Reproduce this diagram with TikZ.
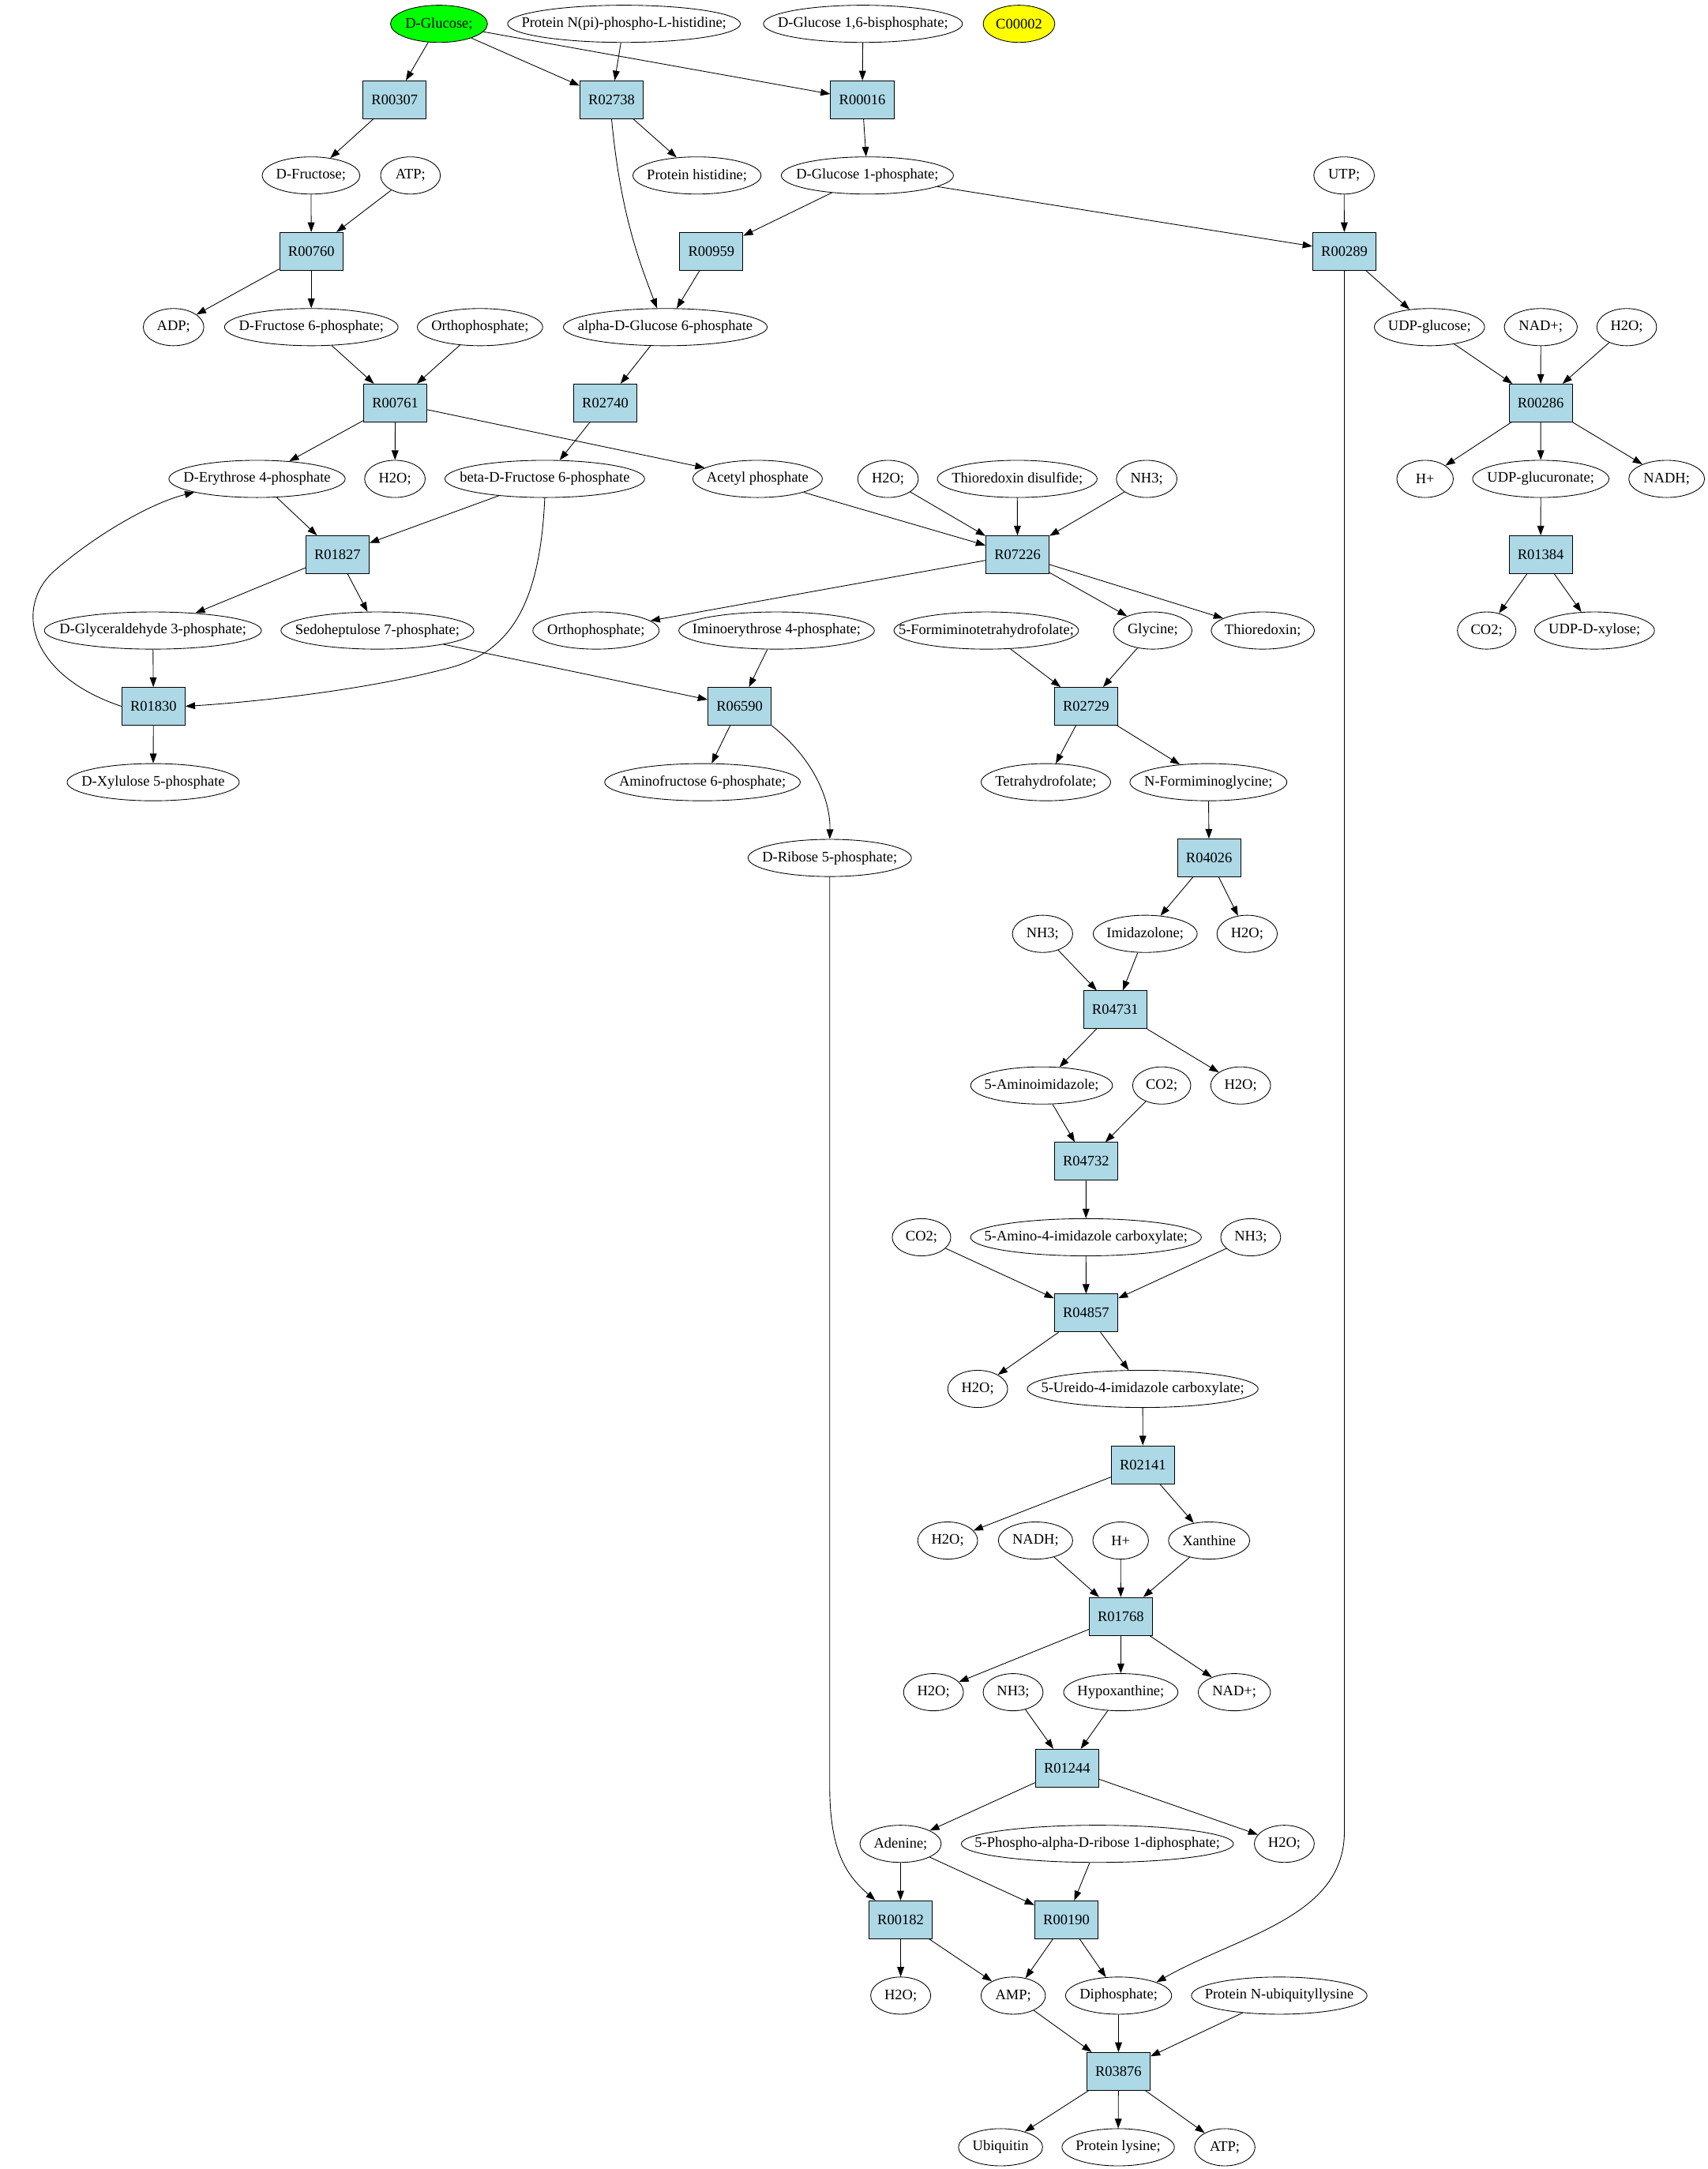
\documentclass[tikz,border=0pt]{standalone}
\usepackage{fontspec}
\setmainfont{Liberation Serif}
\usetikzlibrary{arrows.meta}
\usetikzlibrary{shapes}
\usetikzlibrary{calc}
\definecolor{rxn-blue}{HTML}{ADD8E6}
\definecolor{start-green}{HTML}{00FF00}
\definecolor{goal-yellow}{HTML}{FFFF00}
% compound: name, position, width, label
\newcommand{\met}[5][]{%
\node[met,minimum width=#4pt,#1] (#2) at (#3) {\makebox[0pt]{#5}};
}
% reaction: id, position
\newcommand{\rxn}[2]{%
\node[rxn] (#1) at (#2) {#1};
}

\begin{document}
\begin{tikzpicture}[x=1pt,y=-1pt,
  font=\fontsize{10.6}{12}\selectfont,
  met/.style={ellipse,draw,line width=0.5pt,inner sep=0pt,minimum height=27pt},
  rxn/.style={rectangle,draw,line width=0.5pt,fill=rxn-blue,inner sep=0pt,minimum width=46pt,minimum height=27.5pt},
  edge/.style={line width=0.5pt,-{Triangle[length=7pt,width=5pt]}}]
\useasboundingbox (0,0) rectangle (1240,1574.8);
% row 0
\met[fill=start-green]{glc}{318.7,17.3}{70.4}{D-Glucose;}
\met{phis}{453,17.3}{169}{Protein N(pi)-phospho-L-histidine;}
\met{gbp}{626.5,17.3}{144.5}{D-Glucose 1,6-bisphosphate;}
\met[fill=goal-yellow]{cpd}{739.8,17.3}{52}{C00002}
\rxn{R00307}{286.5,72.4}
\rxn{R02738}{444,72.4}
\rxn{R00016}{626,72.4}
\met{fru}{225.8,127.4}{71}{D-Fructose;}
\met{atpa}{298,127.4}{43.4}{ATP;}
\met{phist}{506,127.4}{93}{Protein histidine;}
\met{gip}{629.7,127.4}{125}{D-Glucose 1-phosphate;}
\met{utp}{975.8,127.4}{44}{UTP;}
\rxn{R00760}{226,182.5}
\rxn{R00959}{516.4,182.5}
\rxn{R00289}{976,182.5}
\met{adp}{126,237.5}{44}{ADP;}
\met{fsp}{226,237.5}{126}{D-Fructose 6-phosphate;}
\met{pia}{348.5,237.5}{91}{Orthophosphate;}
\met{agsp}{483,237.5}{148}{alpha-D-Glucose 6-phosphate}
\met{udpg}{1037.8,237.5}{80}{UDP-glucose;}
\met{nadpa}{1118.6,237.5}{53}{NAD+;}
\met{h2oa}{1181,237.5}{43.4}{H2O;}
\rxn{R00761}{287,292.6}
\rxn{R02740}{439.4,292.6}
\rxn{R00286}{1118.5,292.6}
\met{efp}{186.6,347.7}{128}{D-Erythrose 4-phosphate}
\met{h2ob}{286.7,347.7}{44}{H2O;}
\met{bfsp}{395.5,347.7}{145}{beta-D-Fructose 6-phosphate}
\met{acp}{550,347.7}{94}{Acetyl phosphate}
\met{h2oc}{644.7,347.7}{44}{H2O;}
\met{trxss}{738.5,347.7}{116}{Thioredoxin disulfide;}
\met{nhta}{832.5,347.7}{44}{NH3;}
\met{hpa}{1034.6,347.7}{41}{H+}
\met{udpga}{1118.6,347.7}{99}{UDP-glucuronate;}
\met{nadha}{1210,347.7}{55}{NADH;}
\rxn{R01827}{245,402.7}
\rxn{R07226}{738.7,402.7}
\rxn{R01384}{1118.5,402.7}
\met{gap}{111,457.8}{157.6}{D-Glyceraldehyde 3-phosphate;}
\met{ssp}{274,457.8}{140}{Sedoheptulose 7-phosphate;}
\met{pib}{432.7,457.8}{91.7}{Orthophosphate;}
\met{iefp}{563.8,457.8}{142}{Iminoerythrose 4-phosphate;}
\met{fthf}{716,457.8}{134}{5-Formiminotetrahydrofolate;}
\met{gly}{836.9,457.8}{57}{Glycine;}
\met{trx}{916.8,457.8}{75}{Thioredoxin;}
\met{coa}{1079.3,457.8}{42.5}{CO2;}
\met{udpx}{1157.6,457.8}{87}{UDP-D-xylose;}
\rxn{R01830}{111.4,512.8}
\rxn{R06590}{536.9,512.8}
\rxn{R02729}{788.5,512.8}
\met{xufp}{111.2,567.9}{125}{D-Xylulose 5-phosphate}
\met{afsp}{510,567.9}{142}{Aminofructose 6-phosphate;}
\met{thf}{759.3,567.9}{94}{Tetrahydrofolate;}
\met{fig}{877.3,567.9}{114}{N-Formiminoglycine;}
\met{rfp}{602.4,622.9}{118.6}{D-Ribose 5-phosphate;}
\rxn{R04026}{877.8,622.9}
\met{nhtb}{756.9,678}{43.8}{NH3;}
\met{imz}{831.4,678}{75.5}{Imidazolone;}
\met{h2od}{905.4,678}{43.8}{H2O;}
\rxn{R04731}{809.6,733.1}
\met{air}{756.2,788.1}{103}{5-Aminoimidazole;}
\met{cob}{843.4,788.1}{42.2}{CO2;}
\met{h2oe}{900.7,788.1}{43.5}{H2O;}
\rxn{R04732}{788.5,843.2}
\met{coc}{669,898.3}{42.5}{CO2;}
\met{aica}{788.4,898.3}{167.6}{5-Amino-4-imidazole carboxylate;}
\met{nhtc}{908,898.3}{43.5}{NH3;}
\rxn{R04857}{788.5,953.3}
\met{h2of}{709.8,1008.4}{43.5}{H2O;}
\met{uica}{829.6,1008.4}{167.6}{5-Ureido-4-imidazole carboxylate;}
\rxn{R02141}{829.7,1063.4}
\met{h2og}{688,1118.5}{43.5}{H2O;}
\met{nadhb}{751.8,1118.5}{54}{NADH;}
\met{hpb}{813.6,1118.5}{40.4}{H+}
\met{xan}{877.8,1118.5}{59}{Xanthine}
\rxn{R01768}{813.7,1173.6}
\met{h2oh}{677.7,1228.6}{43.5}{H2O;}
\met{nhtd}{735.5,1228.6}{43.5}{NH3;}
\met{hyp}{813.7,1228.6}{83}{Hypoxanthine;}
\met{nadpb}{896.1,1228.6}{52.5}{NAD+;}
\rxn{R01244}{774.7,1283.7}
\met{ade}{653.8,1338.7}{59}{Adenine;}
\met{prpp}{796.7,1338.7}{197.6}{5-Phospho-alpha-D-ribose 1-diphosphate;}
\met{h2oi}{932.4,1338.7}{43.5}{H2O;}
\rxn{R00182}{653.8,1393.8}
\rxn{R00190}{774.2,1393.8}
\met{h2oj}{653.9,1448.9}{43.6}{H2O;}
\met{amp}{735.6,1448.9}{46.8}{AMP;}
\met{ppi}{812.1,1448.9}{77}{Diphosphate;}
\met{ubk}{928.7,1448.9}{127.5}{Protein N-ubiquityllysine}
\rxn{R03876}{812,1503.9}
\met{ubq}{726.4,1559}{61.1}{Ubiquitin}
\met{lys}{811.8,1559}{81.6}{Protein lysine;}
\met{atpb}{889.2,1559}{43.9}{ATP;}
% straight edges
\foreach \from/\to in {glc/R00307,glc/R02738,glc/R00016,phis/R02738,gbp/R00016,
  R00307/fru,R02738/phist,R00016/gip,fru/R00760,atpa/R00760,gip/R00959,gip/R00289,utp/R00289,
  R00760/adp,R00760/fsp,R00959/agsp,R00289/udpg,
  fsp/R00761,pia/R00761,agsp/R02740,udpg/R00286,nadpa/R00286,h2oa/R00286,
  R00761/efp,R00761/h2ob,R00761/acp,R02740/bfsp,R00286/hpa,R00286/udpga,R00286/nadha,
  efp/R01827,bfsp/R01827,acp/R07226,h2oc/R07226,trxss/R07226,nhta/R07226,udpga/R01384,
  R01827/gap,R01827/ssp,R07226/pib,R07226/gly,R07226/trx,R01384/coa,R01384/udpx,
  gap/R01830,ssp/R06590,iefp/R06590,fthf/R02729,gly/R02729,
  R01830/xufp,R06590/afsp,R02729/thf,R02729/fig,
  fig/R04026,R04026/imz,R04026/h2od,nhtb/R04731,imz/R04731,R04731/air,R04731/h2oe,
  air/R04732,cob/R04732,R04732/aica,coc/R04857,aica/R04857,nhtc/R04857,R04857/h2of,R04857/uica,
  uica/R02141,R02141/h2og,R02141/xan,nadhb/R01768,hpb/R01768,xan/R01768,
  R01768/h2oh,R01768/hyp,R01768/nadpb,nhtd/R01244,hyp/R01244,R01244/ade,R01244/h2oi,
  ade/R00182,ade/R00190,prpp/R00190,R00182/h2oj,R00182/amp,R00190/amp,R00190/ppi,
  amp/R03876,ppi/R03876,ubk/R03876,R03876/ubq,R03876/lys,R03876/atpb} {
  \draw[edge] (\from) -- (\to);
}
% bent edges
\draw[edge] (R02738.south) .. controls (450,150) and (462,185) .. ($(agsp.north)+(-6,0)$);
\draw[edge] (bfsp.south) .. controls (392,440) and (370,475) .. (322,486) .. controls (260,502) and (180,510) .. (R01830.east);
\draw[edge] (R01830.west) .. controls (20,490) and (10,440) .. (40,414) .. controls (70,388) and (110,365) .. (efp.south west);
\draw[edge] (R06590.south east) .. controls (590,550) and (603,580) .. (rfp.north);
\draw[edge] (rfp.south) -- ++(0,664) .. controls (603,1345) and (615,1362) .. ($(R00182.north west)+(5,0)$);
\draw[edge] (R00289.south) -- ++(0,1134) .. controls (975.5,1392) and (900,1405) .. (ppi.north east);
\end{tikzpicture}
\end{document}
